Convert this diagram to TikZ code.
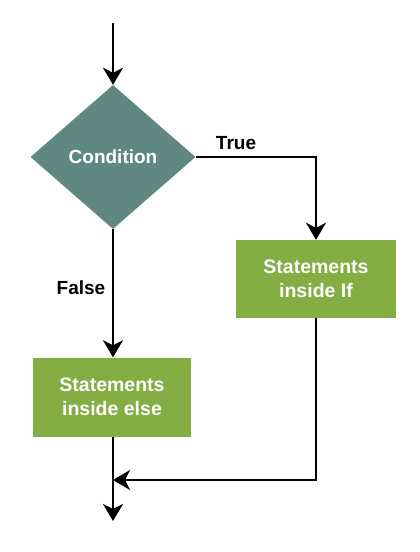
\documentclass[tikz,border=0pt]{standalone}
\usepackage{fontspec}
\setmainfont{Liberation Sans}
\usetikzlibrary{arrows.meta,shapes.geometric}
\definecolor{condcol}{HTML}{5F8883}
\definecolor{boxcol}{HTML}{84AD44}
\tikzset{
  flow/.style={line width=2.4pt, -{Stealth[length=17pt,width=20pt,inset=5pt]}},
  condnode/.style={diamond, fill=condcol, draw=none, minimum width=165pt, minimum height=144pt, inner sep=0pt, text=white, font=\bfseries\fontsize{19}{22}\selectfont},
  stmt/.style={rectangle, fill=boxcol, draw=none, inner sep=0pt, text=white, align=center, font=\bfseries\fontsize{19.5}{23.5}\selectfont},
  lbl/.style={font=\bfseries\fontsize{19}{22}\selectfont, text=black, inner sep=0pt}
}
\begin{document}
\begin{tikzpicture}[x=1pt,y=-1pt]
\useasboundingbox (0,0) rectangle (420,552);
\coordinate (start) at (113,23);
\node[condnode] (cond) at (113,157) {Condition};
\node[stmt, minimum width=160pt, minimum height=78pt] (ifbox) at (316,279) {Statements\\inside If};
\node[stmt, minimum width=158pt, minimum height=79pt] (elsebox) at (112,397) {Statements\\inside else};
\coordinate (merge) at (113,480);
\coordinate (end) at (113,521);
\node[lbl] (truelbl) at (236,143) {True};
\node[lbl] (falselbl) at (81,288) {False};
\draw[flow] (start) -- (cond.north);
\draw[flow] (cond.east) -| (ifbox.north);
\draw[flow] (cond.south) -- (elsebox.north -| cond.south);
\draw[flow] (elsebox.south -| cond.south) -- (end);
\draw[flow] (ifbox.south) |- (merge);
\end{tikzpicture}
\end{document}
